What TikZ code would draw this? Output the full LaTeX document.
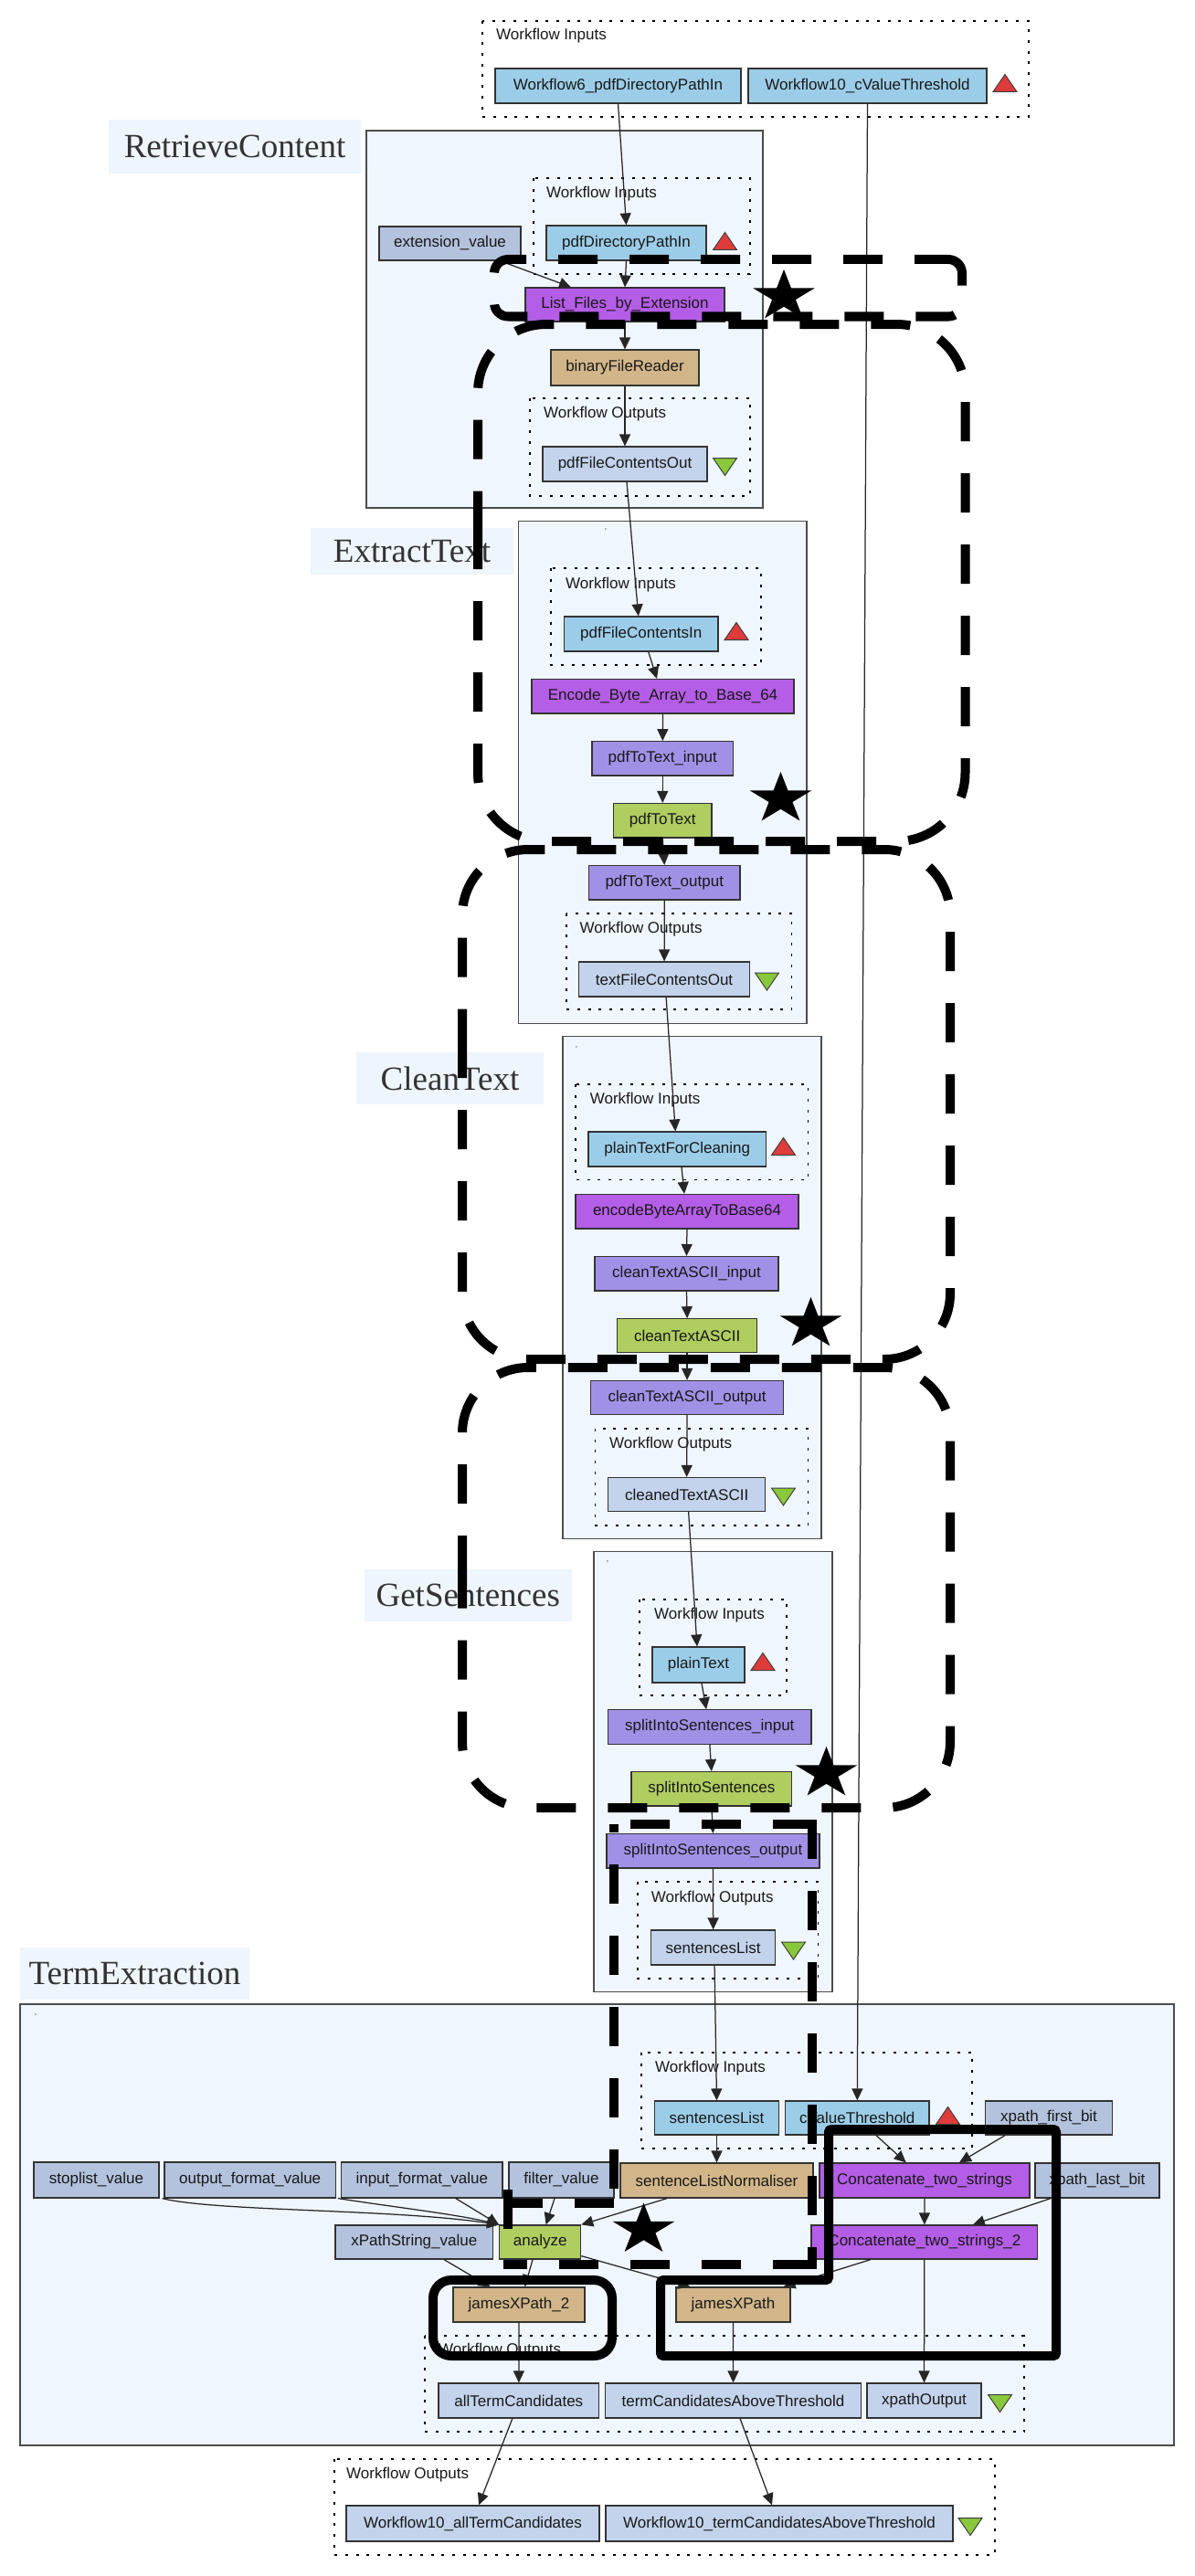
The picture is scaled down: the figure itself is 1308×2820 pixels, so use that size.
\documentclass[tikz,border=0pt]{standalone}
\usepackage{fontspec}
\setmainfont{Liberation Sans}
\newfontfamily\labfont{Liberation Serif}
\usetikzlibrary{arrows.meta}
\definecolor{cInport}{HTML}{9CCDE8}
\definecolor{cConst}{HTML}{B3C2DD}
\definecolor{cOutport}{HTML}{C2D3EB}
\definecolor{cPurp}{HTML}{B45DE6}
\definecolor{cLav}{HTML}{A191E6}
\definecolor{cGrn}{HTML}{B0CD60}
\definecolor{cTan}{HTML}{D2B689}
\definecolor{cSub}{HTML}{F0F6FE}
\definecolor{cLab}{HTML}{EEF5FD}
\definecolor{cRed}{HTML}{DF3B3B}
\definecolor{cGreenTri}{HTML}{89C83A}
\newcommand{\gnode}[7]{%
 \pgfmathsetmacro\gnw{#3-#2}%
 \pgfmathsetmacro\gnh{#5-#4}%
 \pgfmathsetmacro\gnx{(#2+#3)/2}%
 \pgfmathsetmacro\gny{(#4+#5)/2}%
 \node[#6,minimum width=\gnw pt,minimum height=\gnh pt] (#1) at (\gnx,\gny) {#7};}
\newcommand{\tup}[2]{\filldraw[fill=cRed,draw=black!75,line width=1pt] ({#1-13},{#2+9.5}) -- ({#1+13},{#2+9.5}) -- ({#1},{#2-9.5}) -- cycle;}
\newcommand{\tdown}[2]{\filldraw[fill=cGreenTri,draw=black!75,line width=1pt] ({#1-13},{#2-9.5}) -- ({#1+13},{#2-9.5}) -- ({#1},{#2+9.5}) -- cycle;}
\newcommand{\hlstar}[2]{\fill[black,shift={(#1,#2)}] (-90:35.5 and 29.5) -- (-54:13.56 and 11.27) -- (-18:35.5 and 29.5) -- (18:13.56 and 11.27) -- (54:35.5 and 29.5) -- (90:13.56 and 11.27) -- (126:35.5 and 29.5) -- (162:13.56 and 11.27) -- (198:35.5 and 29.5) -- (234:13.56 and 11.27) -- cycle;}
\begin{document}
\begin{tikzpicture}[x=1pt,y=-1pt,
  box/.style={draw=black!80,line width=1.2pt,inner sep=0pt,font=\fontsize{17}{20}\selectfont,text=black!90},
  inport/.style={box,fill=cInport},
  const/.style={box,fill=cConst},
  outport/.style={box,fill=cOutport},
  purp/.style={box,fill=cPurp},
  lav/.style={box,fill=cLav},
  grn/.style={box,fill=cGrn},
  tan/.style={box,fill=cTan},
  sublabel/.style={fill=cLab,inner sep=0pt,font=\labfont\fontsize{37}{40}\selectfont,text=black!80},
  sub/.style={draw=black!70,line width=1.5pt,fill=cSub},
  dotbox/.style={draw=black,line width=1.4pt,dash pattern=on 3pt off 8.7pt},
  wlabel/.style={anchor=west,inner sep=0pt,font=\fontsize{17}{20}\selectfont,text=black!90},
  tick/.style={inner sep=0pt,font=\fontsize{10}{10}\selectfont,text=black!70},
  edge/.style={draw=black!85,line width=1.25pt,-{Triangle[length=13pt,width=12pt]}},
  hl/.style={draw=black,line width=10pt,dash pattern=on 43pt off 35pt},
  hlsolid/.style={draw=black,line width=10pt}]
\fill[white] (0,0) rectangle (1308,2820);
\useasboundingbox (0,0) rectangle (1308,2820);
% ---------- top workflow inputs
\draw[dotbox] (528,23) rectangle (1126,128);
\node[wlabel] (wiTop) at (543,39) {Workflow Inputs};
\gnode{wsix}{542}{811}{75}{113}{inport}{Workflow6\_pdfDirectoryPathIn}
\gnode{wten}{819}{1080}{75}{113}{inport}{Workflow10\_cValueThreshold}
\tup{1100}{91}
% ---------- RetrieveContent
\draw[sub] (401,143) rectangle (835,556);
\gnode{rcLab}{119}{395}{131}{190}{sublabel}{RetrieveContent}
\draw[dotbox] (584,195) rectangle (821,300);
\node[wlabel] (wiRC) at (598,212) {Workflow Inputs};
\gnode{extval}{415}{570}{248}{285}{const}{extension\_value}
\gnode{pdfDir}{598}{773}{247}{285}{inport}{pdfDirectoryPathIn}
\tup{793.5}{264}
\gnode{listF}{575}{793}{315}{352}{purp}{List\_Files\_by\_Extension}
\gnode{bfr}{603}{765}{383}{422}{tan}{binaryFileReader}
\draw[dotbox] (580,436) rectangle (821,543);
\node[wlabel] (woRC) at (595,453.5) {Workflow Outputs};
\gnode{pdfOut}{594}{774}{489}{527}{outport}{pdfFileContentsOut}
\tdown{793.5}{511}
% ---------- ExtractText
\draw[sub] (567.5,570.6) rectangle (883,1120.6);
\gnode{etLab}{340}{562}{578}{629}{sublabel}{ExtractText}
\node[tick] (tkET) at (663,582) {'};
\draw[dotbox] (603,622) rectangle (833,728);
\node[wlabel] (wiET) at (619,640) {Workflow Inputs};
\gnode{pdfIn}{617.5}{786}{675}{713}{inport}{pdfFileContentsIn}
\tup{806}{691}
\gnode{encA}{582}{869}{743.6}{781}{purp}{Encode\_Byte\_Array\_to\_Base\_64}
\gnode{ptIn}{648}{802.5}{811.7}{849}{lav}{pdfToText\_input}
\gnode{pt}{671.5}{779}{879.5}{917}{grn}{pdfToText}
\gnode{ptOut}{644.5}{810}{947.5}{985}{lav}{pdfToText\_output}
\draw[dotbox] (620,1000) rectangle (866.6,1105);
\node[wlabel] (woET) at (634.5,1017) {Workflow Outputs};
\gnode{tfOut}{633.6}{820.6}{1053}{1091}{outport}{textFileContentsOut}
\tdown{839.5}{1074.5}
% ---------- CleanText
\draw[sub] (616,1134.5) rectangle (899,1684.5);
\gnode{ctLab}{390}{595}{1152}{1209}{sublabel}{CleanText}
\node[tick] (tkCT) at (631,1149) {'};
\draw[dotbox] (630,1187) rectangle (884.5,1291.5);
\node[wlabel] (wiCT) at (645.6,1204) {Workflow Inputs};
\gnode{ptfc}{644}{838.5}{1239}{1277}{inport}{plainTextForCleaning}
\tup{857.5}{1255}
\gnode{encB}{630}{874}{1307.5}{1345}{purp}{encodeByteArrayToBase64}
\gnode{ctIn}{651}{852}{1375.6}{1413}{lav}{cleanTextASCII\_input}
\gnode{ct}{675.5}{828.7}{1443.8}{1480.5}{grn}{cleanTextASCII}
\gnode{ctOut}{646.5}{857.7}{1511.5}{1548.6}{lav}{cleanTextASCII\_output}
\draw[dotbox] (651.4,1564) rectangle (884.5,1670);
\node[wlabel] (woCT) at (667,1581) {Workflow Outputs};
\gnode{cleaned}{665.7}{837.6}{1617.5}{1654.6}{outport}{cleanedTextASCII}
\tdown{857.5}{1638.5}
% ---------- GetSentences
\draw[sub] (650,1698.6) rectangle (911,2180.7);
\gnode{gsLab}{399}{625.5}{1717.5}{1775}{sublabel}{GetSentences}
\node[tick] (tkGS) at (665,1712) {'};
\draw[dotbox] (700,1751) rectangle (861,1856);
\node[wlabel] (wiGS) at (716,1768) {Workflow Inputs};
\gnode{pText}{714}{815}{1803}{1842}{inport}{plainText}
\tup{835}{1819}
\gnode{sisIn}{665.7}{888}{1871.8}{1909.3}{lav}{splitIntoSentences\_input}
\gnode{sis}{691}{866.6}{1939.6}{1977}{grn}{splitIntoSentences}
\gnode{sisOut}{664}{897}{2007.5}{2045}{lav}{splitIntoSentences\_output}
\draw[dotbox] (698,2060) rectangle (895.6,2166);
\node[wlabel] (woGS) at (712.6,2078) {Workflow Outputs};
\gnode{sl}{712.6}{848.7}{2113}{2151}{outport}{sentencesList}
\tdown{868.5}{2135.5}
% ---------- TermExtraction
\draw[sub] (22,2194) rectangle (1285,2677);
\gnode{teLab}{22}{273}{2132}{2189}{sublabel}{TermExtraction}
\node[tick] (tkTE) at (39,2208) {'};
\draw[dotbox] (702,2247) rectangle (1064,2352);
\node[wlabel] (wiTE) at (717,2264) {Workflow Inputs};
\gnode{teSL}{716.5}{852.5}{2300}{2337}{inport}{sentencesList}
\gnode{cvT}{859.6}{1017}{2300}{2337}{inport}{cValueThreshold}
\tup{1037.5}{2316}
\gnode{xfb}{1078.5}{1217.6}{2300}{2337}{const}{xpath\_first\_bit}
\gnode{stop}{37}{174}{2367}{2406}{const}{stoplist\_value}
\gnode{ofv}{180}{367.4}{2367}{2406}{const}{output\_format\_value}
\gnode{ifv}{373.7}{550}{2367}{2406}{const}{input\_format\_value}
\gnode{fv}{557}{672}{2367}{2406}{const}{filter\_value}
\gnode{sln}{679}{890}{2368}{2406}{tan}{sentenceListNormaliser}
\gnode{catA}{897}{1127}{2368}{2406}{purp}{Concatenate\_two\_strings}
\gnode{xlb}{1133}{1269}{2368}{2406}{const}{xpath\_last\_bit}
\gnode{xps}{367}{539.6}{2436}{2473}{const}{xPathString\_value}
\gnode{an}{546.7}{635.7}{2436}{2473}{grn}{analyze}
\gnode{catB}{888}{1135.7}{2436}{2473}{purp}{Concatenate\_two\_strings\_2}
\gnode{jx2}{496}{640}{2504}{2542}{tan}{jamesXPath\_2}
\gnode{jx}{740}{865}{2504}{2542}{tan}{jamesXPath}
\draw[dotbox] (465,2557) rectangle (1121,2662);
\node[wlabel] (woTE) at (480,2573) {Workflow Outputs};
\gnode{allTC}{480}{655.7}{2609}{2647}{outport}{allTermCandidates}
\gnode{tcat}{662.6}{942.5}{2609}{2647}{outport}{termCandidatesAboveThreshold}
\gnode{xpo}{949}{1074}{2609}{2647}{outport}{xpathOutput}
\tdown{1094.5}{2631}
% ---------- bottom workflow outputs
\draw[dotbox] (366,2692) rectangle (1089,2797);
\node[wlabel] (woBot) at (379,2709) {Workflow Outputs};
\gnode{wAll}{379}{656}{2743}{2782}{outport}{Workflow10\_allTermCandidates}
\gnode{wTC}{663}{1043}{2743}{2782}{outport}{Workflow10\_termCandidatesAboveThreshold}
\tdown{1062}{2766}
% ---------- edges
\draw[edge] (wsix.south) -- (pdfDir.north);
\draw[edge] (wten.south) -- (cvT.north);
\draw[edge] (pdfDir.south) -- (listF.north);
\draw[edge] ([xshift=55pt]extval.south) -- ([xshift=-59pt]listF.north);
\draw[edge] (listF.south) -- (bfr.north);
\draw[edge] (bfr.south) -- (pdfOut.north);
\draw[edge] ([xshift=2pt]pdfOut.south) -- ([xshift=-3pt]pdfIn.north);
\draw[edge] ([xshift=8pt]pdfIn.south) -- ([xshift=-6.5pt]encA.north);
\draw[edge] (encA.south) -- (ptIn.north);
\draw[edge] (ptIn.south) -- (pt.north);
\draw[edge] (pt.south) -- (ptOut.north);
\draw[edge] (ptOut.south) -- (tfOut.north);
\draw[edge] ([xshift=2pt]tfOut.south) -- ([xshift=-2pt]ptfc.north);
\draw[edge] ([xshift=4.75pt]ptfc.south) -- ([xshift=-3pt]encB.north);
\draw[edge] (encB.south) -- (ctIn.north);
\draw[edge] (ctIn.south) -- (ct.north);
\draw[edge] (ct.south) -- (ctOut.north);
\draw[edge] (ctOut.south) -- (cleaned.north);
\draw[edge] ([xshift=2pt]cleaned.south) -- ([xshift=-1.5pt]pText.north);
\draw[edge] ([xshift=3.5pt]pText.south) -- ([xshift=-3.8pt]sisIn.north);
\draw[edge] (sisIn.south) -- (sis.north);
\draw[edge] (sis.south) -- (sisOut.north);
\draw[edge] (sisOut.south) -- (sl.north);
\draw[edge] ([xshift=1.4pt]sl.south) -- (teSL.north);
\draw[edge] (teSL.south) -- (sln.north);
\draw[edge] ([xshift=-54.5pt]sln.south) -- (an.north east);
\draw[edge] ([xshift=20.7pt]cvT.south) -- ([xshift=-20.3pt]catA.north);
\draw[edge] ([xshift=-48pt]xfb.south) -- ([xshift=38pt]catA.north);
\draw[edge] (catA.south) -- (catB.north);
\draw[edge] ([xshift=-51pt]xlb.south) -- ([xshift=53pt]catB.north);
\draw[edge] ([xshift=-59pt]catB.south) -- ([xshift=55pt]jx.north);
\draw[edge] ([yshift=4pt]an.south east) -- ([xshift=-47pt]jx.north);
\draw[edge] ([xshift=3pt]stop.south east) .. controls (235,2421) and (430,2418) .. (an.north west);
\draw[edge] ([xshift=2pt]ofv.south east) .. controls (430,2416) and (500,2424) .. (an.north west);
\draw[edge] ([xshift=37pt]ifv.south) -- (an.north west);
\draw[edge] ([xshift=-7.5pt]fv.south) -- ([xshift=6.4pt]an.north);
\draw[edge] ([xshift=32.7pt]xps.south) -- ([xshift=-31.4pt]jx2.north);
\draw[edge] ([xshift=-8.2pt]an.south) -- ([xshift=6.5pt]jx2.north);
\draw[edge] (jx2.south) -- (allTC.north);
\draw[edge] (jx.south) -- (tcat.north);
\draw[edge] (catB.south) -- (xpo.north);
\draw[edge] ([xshift=-7pt]allTC.south) -- ([xshift=6.5pt]wAll.north);
\draw[edge] ([xshift=7.5pt]tcat.south) -- ([xshift=-8pt]wTC.north);
% ---------- highlight overlays
\draw[hl,rounded corners=15pt,dash phase=6pt] (1038,284) -- (541,284) -- (541,346.5) -- (1053,346.5) -- (1053,284) -- (1037,284);
\draw[hl,rounded corners=75pt] (523,580) -- (523,921) -- (1056.5,921) -- (1056.5,355) -- (523,355) -- (523,581);
\draw[hl,rounded corners=72pt] (506,1137) -- (506,1488) -- (1040,1488) -- (1040,930) -- (506,930) -- (506,1138);
\draw[hl,rounded corners=72pt] (506,1717.5) -- (506,1979) -- (1040,1979) -- (1040,1497) -- (506,1497) -- (506,1718.5);
\draw[hl] (889,1992) -- (889,2484);
\draw[hl] (889,1997) -- (667,1997);
\draw[hl,dash phase=34pt] (672,1997) -- (672,2417);
\draw[hl] (672,2412) -- (551,2412);
\draw[hl] (556,2397) -- (556,2484);
\draw[hl] (889,2479) -- (551,2479);
\draw[hlsolid,rounded corners=20pt] (474,2496) rectangle (670,2579);
\draw[hlsolid,rounded corners=3pt] (907,2331) -- (1156,2331) -- (1156,2579) -- (723,2579) -- (723,2496) -- (907,2496) -- cycle;
\hlstar{858}{324.5}
\hlstar{854.5}{874.5}
\hlstar{887.5}{1449.5}
\hlstar{904.5}{1941.5}
\hlstar{704.5}{2441}
\end{tikzpicture}
\end{document}
